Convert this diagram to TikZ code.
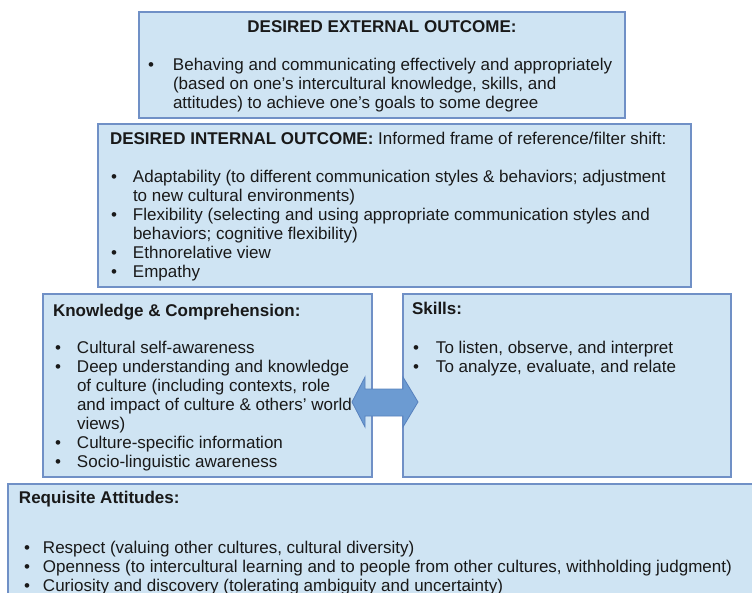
\documentclass[tikz,border=0pt]{standalone}
\usepackage{fontspec}
\setmainfont{Liberation Sans}
\usepackage{array}
\definecolor{boxfill}{RGB}{207,228,243}
\definecolor{boxline}{RGB}{112,144,198}
\definecolor{arrfill}{RGB}{108,155,210}
\definecolor{arrline}{RGB}{88,130,190}
\definecolor{txt}{RGB}{25,25,25}
\newcommand{\blist}[2]{\begin{tabular}[t]{@{}p{#1}@{}l@{}}#2\end{tabular}}
\newcommand{\bu}{\textbullet}
\begin{document}
\begin{tikzpicture}[x=1pt,y=-1pt,
  panel/.style={draw=boxline, fill=boxfill, line width=1.2pt, anchor=north west, inner sep=0, outer sep=0},
  txtblock/.style={anchor=base west, inner sep=0, outer sep=0, font=\fontsize{17}{19}\selectfont, text=txt},
  arrowshape/.style={draw=arrline, fill=arrfill, line width=0.8pt, line join=miter}]
\useasboundingbox (0,0) rectangle (752,593);
\clip (0,0) rectangle (752,593);
% panels
\node[panel, minimum width=486pt, minimum height=106pt] (ext) at (139,12) {};
\node[panel, minimum width=593pt, minimum height=163pt] (int) at (98,124) {};
\node[panel, minimum width=329pt, minimum height=183pt] (know) at (43,294) {};
\node[panel, minimum width=328pt, minimum height=183pt] (skills) at (403,294) {};
\node[panel, minimum width=760pt, minimum height=130pt] (att) at (8,484) {};
% external outcome
\node[txtblock, anchor=base] (exttitle) at (382,33) {\bfseries DESIRED EXTERNAL OUTCOME:};
\node[txtblock] (extlist) at (148,71) {\blist{25pt}{%
 \bu & Behaving and communicating effectively and appropriately\\
     & (based on one's intercultural knowledge, skills, and\\
     & attitudes) to achieve one's goals to some degree}};
% internal outcome
\node[txtblock] (inttitle) at (110,145) {\textbf{DESIRED INTERNAL OUTCOME:} Informed frame of reference/filter shift:};
\node[txtblock] (intlist) at (111,183) {\blist{22pt}{%
 \bu & Adaptability (to different communication styles \& behaviors; adjustment\\
     & to new cultural environments)\\
 \bu & Flexibility (selecting and using appropriate communication styles and\\
     & behaviors; cognitive flexibility)\\
 \bu & Ethnorelative view\\
 \bu & Empathy}};
% knowledge
\node[txtblock] (knowtitle) at (53,317) {\bfseries Knowledge \& Comprehension:};
\node[txtblock] (knowlist) at (55,354) {\blist{22pt}{%
 \bu & Cultural self-awareness\\
 \bu & Deep understanding and knowledge\\
     & of culture (including contexts, role\\
     & and impact of culture \& others' world\\
     & views)\\
 \bu & Culture-specific information\\
 \bu & Socio-linguistic awareness}};
% skills
\node[txtblock] (skilltitle) at (412,315) {\bfseries Skills:};
\node[txtblock] (skilllist) at (413,353) {\blist{23pt}{%
 \bu & To listen, observe, and interpret\\
 \bu & To analyze, evaluate, and relate}};
% attitudes
\node[txtblock] (atttitle) at (19,503) {\bfseries Requisite Attitudes:};
\node[txtblock] (attlist) at (24,553) {\blist{19pt}{%
 \bu & Respect (valuing other cultures, cultural diversity)\\
 \bu & Openness (to intercultural learning and to people from other cultures, withholding judgment)\\
 \bu & Curiosity and discovery (tolerating ambiguity and uncertainty)}};
% double arrow
\draw[arrowshape] (352,402) -- (365,377) -- (365,389) -- (403,389) -- (403,377) -- (418,402)
  -- (403,427) -- (403,416) -- (365,416) -- (365,427) -- cycle;
\end{tikzpicture}
\end{document}
